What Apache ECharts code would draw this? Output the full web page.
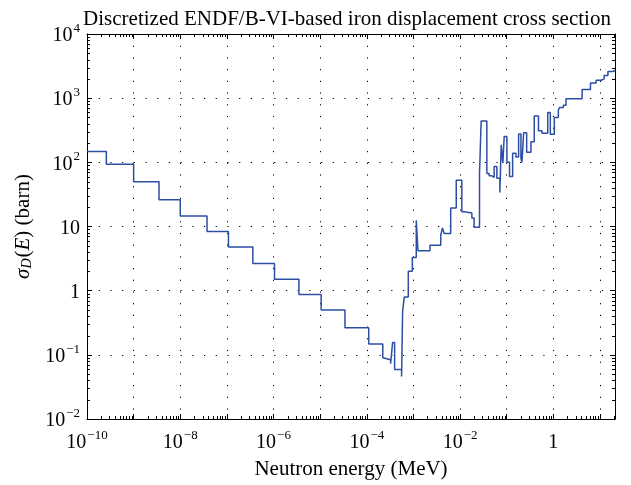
<!DOCTYPE html>
<html><head><meta charset="utf-8">
<script src="https://cdn.jsdelivr.net/npm/echarts@6/dist/echarts.min.js"></script>
<style>html,body{margin:0;padding:0;background:#fff}#c{width:631px;height:485px}</style>
</head><body><div id="c"></div>
<script>
// Group lower boundaries (MeV) and the cross-section value held over each group (barn)
const energies = [1e-10, 2.6e-10, 1.0e-9, 3.5e-9, 1.0e-8, 3.75e-8, 1.08e-7, 3.6e-7, 1.05e-6, 3.5e-6,
  1.05e-5, 3.4e-5, 1.1e-4, 2.2e-4, 2.32e-4, 3.24e-4, 3.57e-4, 3.95e-4, 5.57e-4, 5.86e-4,
  6.37e-4, 7.76e-4, 9.46e-4, 1.15e-3, 1.25e-3, 2.26e-3, 3.85e-3, 4.19e-3, 4.57e-3, 6.3e-3,
  8.28e-3, 1.09e-2, 1.22e-2, 1.79e-2, 2.0e-2, 2.61e-2, 2.83e-2, 3.75e-2, 4.2e-2, 4.73e-2,
  5.38e-2, 6.15e-2, 7.14e-2, 7.62e-2, 8.28e-2, 8.83e-2, 0.101, 0.115, 0.134, 0.158,
  0.18, 0.202, 0.212, 0.231, 0.268, 0.331, 0.39, 0.48, 0.571, 0.758,
  0.861, 1.05, 1.28, 1.36, 1.64, 1.87, 4.14, 6.25, 8.28, 10.6,
  12.3, 14.8, 19.0];
const sigma = [147, 93, 50, 26, 14.6, 8.35, 4.79, 2.64, 1.51, 0.87,
  0.50, 0.265, 0.148, 0.09, 0.084, 0.073, 0.155, 0.059, 0.046, 0.47,
  0.80, 2.0, 3.3, 12.5, 4.2, 5.1, 7.3, 9.5, 7.8, 19.5,
  52.5, 17, 16.3, 13.6, 9.7, 66, 440, 67, 62, 58,
  86, 56.5, 34, 187, 98, 252, 100, 60, 139, 121,
  277, 116, 100, 290, 144, 210, 525, 310, 285, 600,
  274, 500, 650, 715, 775, 980, 1370, 1720, 1900, 2000,
  2260, 2600, 2700];
const energyMax = 21;
const xMin = 1e-10, yMin = 1e-2, yMax = 1e4;

const stepData = energies.map((e, i) => [e, sigma[i]]);
stepData.push([energyMax, sigma[sigma.length - 1]]);

const SERIF = '"Liberation Serif", "DejaVu Serif", serif';
const rich = {
  b: { fontSize: 20, fontFamily: SERIF, color: '#000', verticalAlign: 'bottom', lineHeight: 24 },
  s: { fontSize: 13, fontFamily: SERIF, color: '#000', verticalAlign: 'top', lineHeight: 24, padding: [0, 0, 0, 1] }
};
function powLabel(v, skipOdd) {
  const p = Math.round(Math.log10(v));
  if (Math.abs(Math.log10(v) - p) > 1e-6) return '';
  if (skipOdd && p % 2 !== 0) return '';
  if (p === 0) return '{b|1}';
  if (p === 1) return '{b|10}';
  return '{b|10}{s|' + (p < 0 ? '\u2212' + (-p) : p) + '}';
}

const chart = echarts.init(document.getElementById('c'), null, { renderer: 'canvas' });
const frameLine = { show: true, lineStyle: { color: '#000', width: 1 } };
const gridRect = { left: 87, right: 16, top: 34, bottom: 64 };
const dotted = { show: true, lineStyle: { color: '#000', width: 1, type: [1.2, 10.5] } };
const majorTick = { show: true, inside: true, length: 5, lineStyle: { color: '#000' } };
chart.setOption({
  animation: false,
  backgroundColor: '#fff',
  title: {
    text: 'Discretized ENDF/B-VI-based iron displacement cross section',
    left: 342, textAlign: 'center', top: 4,
    textStyle: { fontFamily: SERIF, fontSize: 21, fontWeight: 'normal', color: '#000' }
  },
  grid: gridRect,
  xAxis: [{
    type: 'log', logBase: 10, min: xMin, max: energyMax, interval: 1, position: 'bottom',
    axisLine: frameLine, axisTick: majorTick, splitLine: dotted,
    axisLabel: { margin: 10, formatter: v => powLabel(v, true), rich: rich, showMaxLabel: false, hideOverlap: false },
    name: 'Neutron energy (MeV)', nameLocation: 'middle', nameGap: 40,
    nameTextStyle: { fontFamily: SERIF, fontSize: 21, color: '#000' }
  }, {
    type: 'log', logBase: 10, min: xMin, max: energyMax, interval: 1, position: 'top',
    axisLine: frameLine, axisTick: majorTick,
    splitLine: { show: false }, axisLabel: { show: false }
  }],
  yAxis: [{
    type: 'log', logBase: 10, min: yMin, max: yMax, interval: 1, position: 'left',
    axisLine: frameLine, axisTick: majorTick, splitLine: dotted,
    axisLabel: { margin: 7, formatter: v => powLabel(v, false), rich: rich },
    name: '{i|\u03c3}{sub|D}{n|(}{i|E}{n|) (barn)}', nameLocation: 'middle', nameGap: 50, nameRotate: 90,
    nameTextStyle: {
      rich: {
        i: { fontFamily: SERIF, fontStyle: 'italic', fontSize: 21, color: '#000', verticalAlign: 'bottom', lineHeight: 25 },
        sub: { fontFamily: SERIF, fontStyle: 'italic', fontSize: 14, color: '#000', verticalAlign: 'bottom', lineHeight: 25, padding: [0, 1, 0, 0] },
        n: { fontFamily: SERIF, fontSize: 21, color: '#000', verticalAlign: 'bottom', lineHeight: 25 }
      }
    }
  }, {
    type: 'log', logBase: 10, min: yMin, max: yMax, interval: 1, position: 'right',
    axisLine: frameLine, axisTick: majorTick,
    splitLine: { show: false }, axisLabel: { show: false }
  }],
  series: [{
    type: 'line', step: 'end', data: stepData, showSymbol: false, symbol: 'none',
    xAxisIndex: 0, yAxisIndex: 0,
    lineStyle: { color: '#2c4fa3', width: 1.5 }
  }]
});

// Minor (2..9) log ticks on all four sides, placed through the axes' own scales
function addMinorTicks() {
  const els = [];
  const corner0 = chart.convertToPixel({ gridIndex: 0 }, [xMin, yMin]);
  const corner1 = chart.convertToPixel({ gridIndex: 0 }, [energyMax, yMax]);
  const L = corner0[0], B = corner0[1], R = corner1[0], T = corner1[1];
  const len = 3;
  const st = { stroke: '#000', lineWidth: 1 };
  for (let d = -10; d <= 1; d++) {
    for (let k = 2; k <= 9; k++) {
      const v = k * Math.pow(10, d);
      if (v <= xMin || v >= energyMax) continue;
      const x = Math.round(chart.convertToPixel({ xAxisIndex: 0 }, v)) + 0.5;
      els.push({ type: 'line', shape: { x1: x, y1: B, x2: x, y2: B - len }, style: st, silent: true });
      els.push({ type: 'line', shape: { x1: x, y1: T, x2: x, y2: T + len }, style: st, silent: true });
    }
  }
  for (let d = -2; d <= 3; d++) {
    for (let k = 2; k <= 9; k++) {
      const v = k * Math.pow(10, d);
      const y = Math.round(chart.convertToPixel({ yAxisIndex: 0 }, v)) + 0.5;
      els.push({ type: 'line', shape: { x1: L, y1: y, x2: L + len, y2: y }, style: st, silent: true });
      els.push({ type: 'line', shape: { x1: R, y1: y, x2: R - len, y2: y }, style: st, silent: true });
    }
  }
  chart.setOption({ graphic: els });
}
addMinorTicks();
</script>
</body></html>
